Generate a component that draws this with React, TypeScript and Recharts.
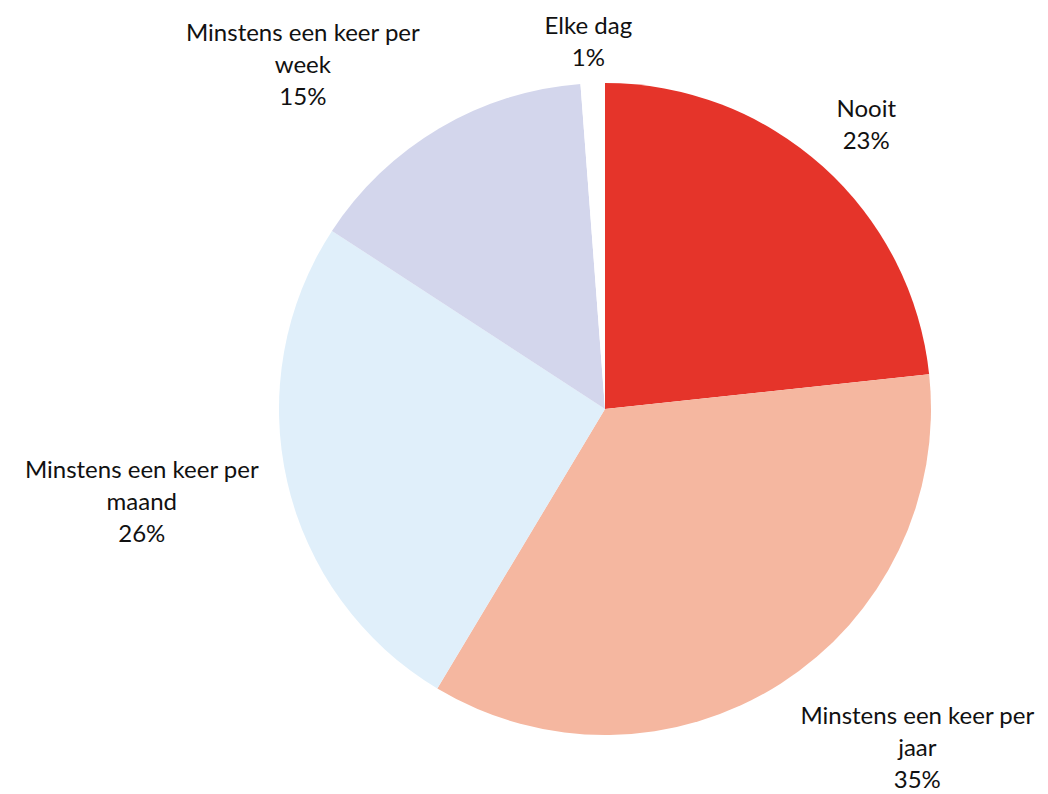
import { Cell, Pie, PieChart } from "recharts";

const categories = [
  "Nooit",
  "Minstens een keer per jaar",
  "Minstens een keer per maand",
  "Minstens een keer per week",
  "Elke dag",
];
const shares = [23.3, 35.3, 25.6, 14.6, 1.2];
const colors = ["#E5342A", "#F5B7A0", "#E0EFFA", "#D3D6EC", "#FFFFFF"];

const data = categories.map((name, i) => ({ name, value: shares[i] }));

const W = 1040;
const H = 786;
const FONT = "Lato, 'Open Sans', sans-serif";
const FONT_SIZE = 24;
const LINE_H = 32;
const CHAR_W = 12;

// break long category names the way the original wraps them
function wrap(text: string, max = 21) {
  const lines: string[] = [];
  let cur = "";
  for (const w of text.split(" ")) {
    const next = cur ? `${cur} ${w}` : w;
    if (next.length > max && cur) {
      lines.push(cur);
      cur = w;
    } else {
      cur = next;
    }
  }
  if (cur) lines.push(cur);
  return lines;
}

const clamp = (v: number) => Math.max(-1, Math.min(1, v));

function renderLabel(props: any) {
  const { cx, cy, midAngle, outerRadius, percent, name } = props;
  const rad = (Math.PI / 180) * midAngle;
  const ux = Math.cos(rad);
  const uy = -Math.sin(rad);
  const r = outerRadius + 20;
  const ax = cx + ux * r;
  const ay = cy + uy * r;
  const lines = [...wrap(name), `${Math.round(percent * 100)}%`];
  const w = Math.max(...lines.map((l) => l.length)) * CHAR_W;
  const h = lines.length * LINE_H;
  const bx = ax + clamp(ux * 2) * (w / 2);
  // keep label boxes inside the plot area
  let by = ay + clamp(uy * 1.2) * (h / 2);
  by = Math.min(Math.max(by, h / 2), H - h / 2);
  const y0 = by - ((lines.length - 1) / 2) * LINE_H;
  return (
    <text
      x={bx}
      y={y0}
      textAnchor="middle"
      dominantBaseline="central"
      fontFamily={FONT}
      fontSize={FONT_SIZE}
      fill="#111"
    >
      {lines.map((l, i) => (
        <tspan key={i} x={bx} y={y0 + i * LINE_H}>
          {l}
        </tspan>
      ))}
    </text>
  );
}

export default function App() {
  return (
    <div style={{ width: W, height: H, background: "#fff" }}>
      <PieChart width={W} height={H} margin={{ top: 0, right: 0, bottom: 0, left: 0 }}>
        <Pie
          data={data}
          dataKey="value"
          nameKey="name"
          cx={597}
          cy={401}
          outerRadius={326}
          startAngle={90}
          endAngle={-270}
          stroke="none"
          labelLine={false}
          label={renderLabel}
          isAnimationActive={false}
        >
          {data.map((d, i) => (
            <Cell key={d.name} fill={colors[i]} />
          ))}
        </Pie>
      </PieChart>
    </div>
  );
}
